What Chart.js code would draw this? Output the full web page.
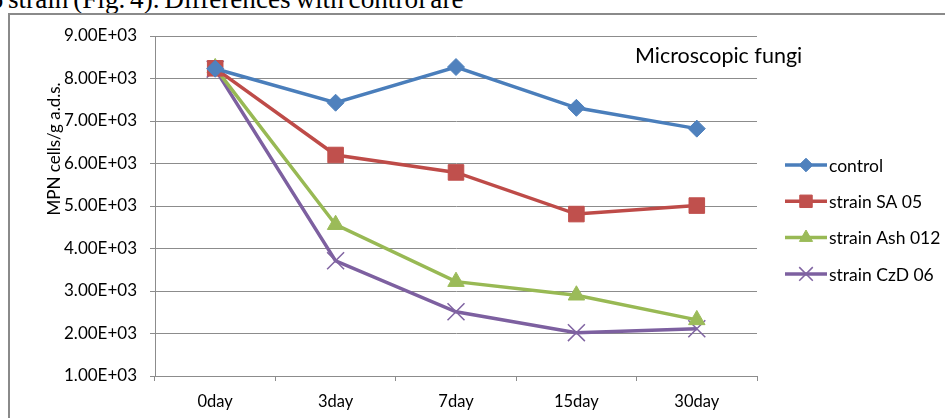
<!DOCTYPE html>
<html>
<head>
<meta charset="utf-8">
<script src="https://cdn.jsdelivr.net/npm/chart.js@4.4.1/dist/chart.umd.min.js"></script>
<style>
  html, body { margin: 0; padding: 0; background: #fff; overflow: hidden; }
  body { width: 945px; height: 418px; position: relative; }
  #caption {
    position: absolute; left: -24px; top: -16px; white-space: nowrap;
    font-family: "Liberation Serif", "Times New Roman", serif; font-size: 27.2px;
    word-spacing: -2px; line-height: normal; color: #000;
  }
  #frame {
    position: absolute; left: 8px; top: 13px; width: 1000px; height: 500px;
    border-left: 2px solid #8a8a8a; border-top: 2px solid #8a8a8a;
  }
  #myChart { position: absolute; left: 0; top: 0; }
</style>
</head>
<body>
<div id="caption">06 strain (Fig. 4). Differences with control are</div>
<div id="frame"></div>
<canvas id="myChart" width="945" height="418"></canvas>
<script>
// days of sampling
const days = ["0day", "3day", "7day", "15day", "30day"];
// MPN cells/g a.d.s.
const control = [8230, 7430, 8270, 7310, 6820];
const strainSA05 = [8240, 6200, 5790, 4810, 5010];
const strainAsh012 = [8250, 4560, 3220, 2900, 2320];
const strainCzD06 = [8220, 3710, 2510, 2020, 2110];
const yTicks = [1000, 2000, 3000, 4000, 5000, 6000, 7000, 8000, 9000];

const FONT = "Lato, 'Open Sans', sans-serif";
const gridGrey = "#8c8c8c";

// 9000 -> "9.00E+03"
function sci(v) {
  const p = v.toExponential(2).toUpperCase().split("E");
  const sign = p[1][0];
  let ex = p[1].slice(1);
  if (ex.length < 2) ex = "0" + ex;
  return p[0] + "E" + sign + ex;
}

function series(label, data, line, fill, style, radius, bw) {
  return {
    label: label,
    data: data,
    borderColor: line,
    backgroundColor: fill,
    borderWidth: 3.5,
    pointStyle: style,
    pointRadius: radius,
    pointHoverRadius: radius,
    pointBackgroundColor: fill,
    pointBorderColor: fill,
    pointBorderWidth: bw,
    tension: 0
  };
}

// legend with line + marker, plus the free texts inside the frame
const extras = {
  id: "extras",
  afterDraw(chart) {
    const ctx = chart.ctx;
    ctx.save();
    // y axis title
    ctx.fillStyle = "#000";
    ctx.font = "17px " + FONT;
    ctx.textAlign = "center";
    ctx.textBaseline = "middle";
    ctx.translate(55, 149);
    ctx.rotate(-Math.PI / 2);
    ctx.fillText("MPN cells/g a.d.s.", 0, 0);
    ctx.restore();

    ctx.save();
    ctx.fillStyle = "#000";
    ctx.font = "21.5px " + FONT;
    ctx.textBaseline = "middle";
    ctx.fillText("Microscopic fungi", 635, 56);

    // legend
    chart.data.datasets.forEach(function (ds, i) {
      const y = 165 + i * 36.3;
      ctx.strokeStyle = ds.borderColor;
      ctx.lineWidth = 3.5;
      ctx.beginPath();
      ctx.moveTo(785, y);
      ctx.lineTo(827, y);
      ctx.stroke();
      ctx.fillStyle = ds.pointBackgroundColor;
      ctx.strokeStyle = ds.pointBorderColor;
      ctx.lineWidth = ds.pointBorderWidth;
      Chart.helpers.drawPoint(ctx, {
        pointStyle: ds.pointStyle,
        radius: ds.pointRadius * 0.8,
        rotation: 0,
        borderWidth: ds.pointBorderWidth
      }, 806, y);
      ctx.fillStyle = "#000";
      ctx.font = "17.5px " + FONT;
      ctx.textAlign = "left";
      ctx.textBaseline = "middle";
      ctx.fillText(ds.label, 829, y + 1);
    });
    ctx.restore();
  }
};

const ctx = document.getElementById("myChart").getContext("2d");
const myChart = new Chart(ctx, {
  type: "line",
  data: {
    labels: days,
    datasets: [
      series("control", control, "#4A7EBB", "#4F81BD", "rectRot", 8.5, 1),
      series("strain SA 05", strainSA05, "#BE4B48", "#C0504D", "rect", 11, 1),
      series("strain Ash 012", strainAsh012, "#98B954", "#9BBB59", "triangle", 9.5, 1),
      series("strain CzD 06", strainCzD06, "#7D60A0", "#8064A2", "crossRot", 12, 1.5)
    ]
  },
  options: {
    responsive: false,
    animation: false,
    events: [],
    layout: { padding: { left: 25, right: 188, top: 36, bottom: 0 } },
    plugins: {
      legend: { display: false },
      title: { display: false },
      tooltip: { enabled: false }
    },
    scales: {
      x: {
        offset: true,
        grid: {
          offset: true,
          drawOnChartArea: false,
          drawTicks: true,
          tickLength: 5,
          color: gridGrey
        },
        border: { color: gridGrey, width: 1 },
        ticks: {
          color: "#000",
          font: { family: FONT, size: 16.5 },
          padding: 11,
          maxRotation: 0
        },
        afterFit(s) { s.height = 42; }
      },
      y: {
        min: 1000,
        max: 9000,
        afterBuildTicks(s) { s.ticks = yTicks.map(v => ({ value: v })); },
        grid: {
          color: gridGrey,
          tickLength: 5,
          lineWidth: 1
        },
        border: { color: gridGrey, width: 1 },
        ticks: {
          color: "#000",
          font: { family: FONT, size: 17 },
          padding: 13,
          callback: v => sci(v)
        },
        afterFit(s) { s.width = 130; }
      }
    }
  },
  plugins: [extras]
});
</script>
</body>
</html>
